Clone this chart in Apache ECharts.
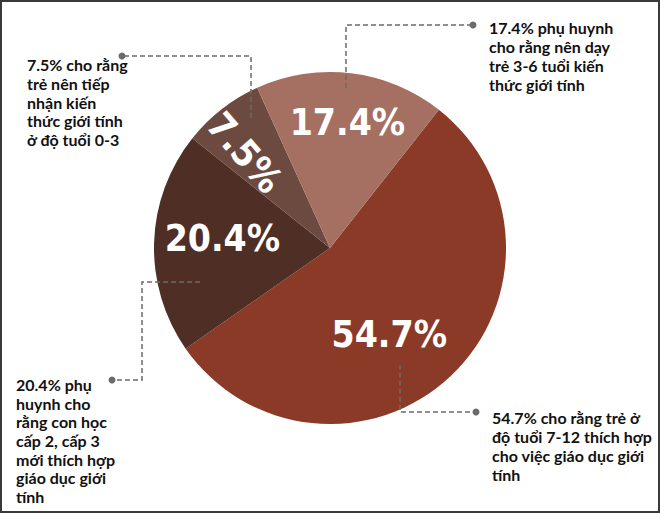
<!DOCTYPE html>
<html>
<head>
<meta charset="utf-8">
<script src="https://cdn.jsdelivr.net/npm/echarts@6/dist/echarts.min.js"></script>
<style>
html,body{margin:0;padding:0;background:#fff;}
#chart{width:660px;height:513px;}
</style>
</head>
<body>
<div id="chart"></div>
<script>
// ---- data ----
const categories = ['7-12 tuổi', 'Cấp 2, cấp 3', '0-3 tuổi', '3-6 tuổi'];
const values = [54.7, 20.4, 7.5, 17.4];
const valueLabels = ['54.7%', '20.4%', '7.5%', '17.4%'];
const noteLabels = [
  '54.7% cho rằng trẻ ở\nđộ tuổi 7-12 thích hợp\ncho việc giáo dục giới\ntính',
  '20.4% phụ\nhuynh cho\nrằng con học\ncấp 2, cấp 3\nmới thích hợp\ngiáo dục giới\ntính',
  '7.5% cho rằng\ntrẻ nên tiếp\nnhận kiến\nthức giới tính\nở độ tuổi 0-3',
  '17.4% phụ huynh\ncho rằng nên dạy\ntrẻ 3-6 tuổi kiến\nthức giới tính'
];

// ---- style / layout ----
const colors = ['#8b3a28', '#4f2e25', '#6d4a40', '#a57062'];
const CX = 330, CY = 248, R = 176;
const START_FROM_TOP = 38.2;          // degrees clockwise from 12 o'clock
const labelRadius = [105, 108, 128, 127];
const labelAngleShift = [9, 3, -4, 1];
const labelRotate = [0, 0, -49, 0];

// leader-line annotation layout (points, dot, text box)
const notes = [
  {pts: [[400, 365], [400, 412], [476, 412]], tx: 492, ty: 408, lh: 19},
  {pts: [[200, 282], [142, 282], [142, 380], [112, 380]], tx: 16, ty: 375, lh: 18.7},
  {pts: [[251, 118], [251, 56], [122, 56]], tx: 27, ty: 55, lh: 18.8},
  {pts: [[346, 88], [346, 25], [473, 25]], tx: 489, ty: 18, lh: 19}
];

const total = values.reduce((a, b) => a + b, 0);
const cum = [];
values.reduce((acc, v, i) => { cum[i] = acc; return acc + v; }, 0);

const chart = echarts.init(document.getElementById('chart'), null, {renderer: 'svg'});

const graphics = [];
notes.forEach((n, i) => {
  graphics.push({
    type: 'polyline', z: 10,
    shape: {points: n.pts},
    style: {stroke: '#6b6b6b', lineWidth: 1.5, lineDash: [5, 3], fill: null}
  });
  const end = n.pts[n.pts.length - 1];
  graphics.push({
    type: 'circle', z: 10,
    shape: {cx: end[0], cy: end[1], r: 3.5},
    style: {fill: '#6b6b6b'}
  });
  graphics.push({
    type: 'text', z: 10, x: n.tx, y: n.ty,
    style: {
      text: noteLabels[i],
      font: 'bold 16px Lato, "Noto Sans", sans-serif',
      fill: '#111111',
      lineHeight: n.lh,
      textVerticalAlign: 'top',
      verticalAlign: 'top'
    }
  });
});
graphics.push({
  type: 'rect', z: 20,
  shape: {x: 1, y: 1, width: 658, height: 511},
  style: {fill: null, stroke: '#3a3a3a', lineWidth: 2}
});

const option = {
  backgroundColor: '#ffffff',
  animation: false,
  series: [{
    type: 'pie',
    center: [CX, CY],
    radius: [0, R],
    startAngle: 90 - START_FROM_TOP,
    clockwise: true,
    avoidLabelOverlap: false,
    data: categories.map((c, i) => ({
      name: c, value: values[i],
      itemStyle: {color: colors[i]}
    })),
    itemStyle: {borderWidth: 0},
    label: {
      show: true,
      position: 'inside',
      formatter: p => valueLabels[p.dataIndex],
      color: '#ffffff',
      fontFamily: '"DejaVu Sans Condensed", "Liberation Sans Narrow", sans-serif',
      fontWeight: 'bold',
      fontSize: 37
    },
    labelLine: {show: false},
    labelLayout: function (p) {
      const i = p.dataIndex;
      const mid = START_FROM_TOP + (cum[i] + values[i] / 2) / total * 360 + labelAngleShift[i];
      const a = mid * Math.PI / 180;
      return {
        x: CX + labelRadius[i] * Math.sin(a),
        y: CY - labelRadius[i] * Math.cos(a),
        align: 'center',
        verticalAlign: 'middle',
        rotate: labelRotate[i]
      };
    }
  }],
  graphic: graphics
};
chart.setOption(option);
</script>
</body>
</html>
